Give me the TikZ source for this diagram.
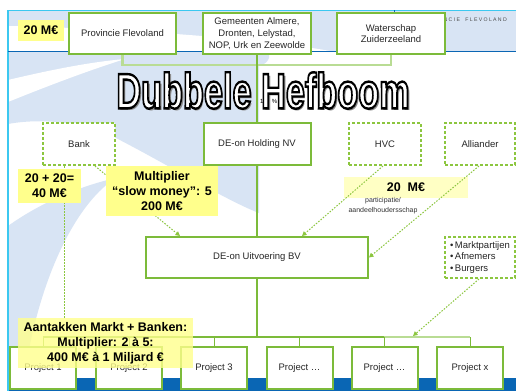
\documentclass[tikz,border=0pt]{standalone}
\usepackage{fontspec}
\setmainfont{Liberation Sans}
\usepackage{graphicx}
\usetikzlibrary{arrows.meta,calc}
\pgfdeclarelayer{front}
\pgfsetlayers{main,front}
\definecolor{lblue}{HTML}{D8E4F4}
\definecolor{dblue}{HTML}{0A66B4}
\definecolor{cyanl}{HTML}{3CC8F0}
\definecolor{gsolid}{HTML}{7CBB3A}
\definecolor{gdash}{HTML}{8CC63F}
\definecolor{gpale}{HTML}{B9DC94}
\definecolor{ylw}{HTML}{FFFF8C}
\definecolor{ylwpale}{HTML}{FFFFC4}
\newcommand{\mytitletext}{\fontsize{49.7}{50}\selectfont\bfseries\scalebox{0.69}[1]{Dubbele Hefboom}}
\newcommand{\myoutlined}[1]{\special{pdf:code q 2 Tr 0 0 0 RG 2.4 w}#1\special{pdf:code Q}}
\newcommand{\mytitleall}{\rlap{\hspace{2pt}\raisebox{-2pt}{\color{black!45}\mytitletext}}\myoutlined{\mytitletext}}
\begin{document}
\begin{tikzpicture}[x=1pt,y=-1pt,
  boxtxt/.style={font=\fontsize{9.5}{11.7}\selectfont, align=center, text=black!85},
  solidbox/.style={boxtxt, draw=gsolid, line width=2pt, fill=white, inner sep=0pt},
  dashbox/.style={boxtxt, draw=gdash, line width=2pt, fill=white, dash pattern=on 3pt off 2pt, inner sep=0pt},
  projbox/.style={solidbox, minimum width=66pt, minimum height=42pt},
  ybox/.style={fill=ylw, font=\fontsize{12.5}{15.2}\selectfont\bfseries, align=center, inner sep=0pt},
  dotline/.style={draw=gdash, line width=1pt, dash pattern=on 1.5pt off 1.5pt},
  dotcon/.style={dotline, -{Triangle[width=4.5pt,length=4.5pt]}},
  trunk/.style={draw=gsolid, line width=1.5pt},
  ttl/.style={anchor=base, inner sep=0pt},
]
% background
\fill[white] (0,0) rectangle (516,391);
\useasboundingbox (0,0) rectangle (516,391);
\fill[lblue] (8,10) rectangle (516,51);
\fill[white] (8,26) .. controls (110,28) and (260,38) .. (330,51) -- (8,51) -- cycle;
\fill[lblue] (8,51) -- (264,51) .. controls (272,52) and (271,63) .. (259,66) -- (259,213)
  .. controls (225,200) and (160,160) .. (110,135) .. controls (80,122) and (40,118) .. (8,124) -- cycle;
\fill[white] (8,80) .. controls (50,70) and (90,62) .. (125,59) .. controls (90,70) and (50,85) .. (8,102) -- cycle;
\fill[lblue] (8,226) .. controls (40,203) and (80,186) .. (116,178) .. controls (80,200) and (40,270) .. (24,378) -- (8,378) -- cycle;
\fill[dblue] (8,378) rectangle (516,391);
\draw[cyanl, line width=1pt] (8,10) -- (516,10);
\draw[cyanl, line width=1.2pt] (8,10) -- (8,391);
\draw[dblue, line width=1pt] (8,51) -- (516,51);
\draw[dblue, line width=0.8pt] (394,10) -- (394,13);
\node[anchor=east, inner sep=0pt, font=\fontsize{5.2}{6}\selectfont\addfontfeature{LetterSpace=25}, text=black!70] (pf) at (507,20) {PROVINCIE\ \ FLEVOLAND};

% boxes
\node[solidbox, minimum width=107pt, minimum height=41pt] (prov) at (122.5,33.5) {Provincie Flevoland};
\node[solidbox, minimum width=108pt, minimum height=41pt] (gem) at (257,33.5) {Gemeenten Almere,\\Dronten, Lelystad,\\NOP, Urk en Zeewolde};
\node[solidbox, minimum width=108pt, minimum height=41pt] (wat) at (391,33.5) {Waterschap\\Zuiderzeeland};
\node[ybox, minimum width=46pt, minimum height=21pt] (y20) at (41,30.5) {20 M€};

\node[dashbox, minimum width=72pt, minimum height=42pt] (bank) at (79,144) {Bank};
\node[solidbox, minimum width=107pt, minimum height=42pt] (hold) at (257,144) {DE-on Holding NV};
\node[dashbox, minimum width=72pt, minimum height=42pt] (hvc) at (385,144) {HVC};
\node[dashbox, minimum width=70pt, minimum height=42pt] (alli) at (480,144) {Alliander};

\node[solidbox, minimum width=222pt, minimum height=41pt] (uitv) at (257,257.5) {DE-on Uitvoering BV};
\node[dashbox, minimum width=70pt, minimum height=41pt, align=left] (markt) at (480,257.5) {\textbullet\hspace{1.5pt}Marktpartijen\\\textbullet\hspace{1.5pt}Afnemers\\\textbullet\hspace{1.5pt}Burgers};

\node[projbox] (p1) at (43,368) {Project 1};
\node[projbox] (p2) at (129,368) {Project 2};
\node[projbox] (p3) at (214,368) {Project 3};
\node[projbox] (p4) at (299.5,368) {Project \ldots};
\node[projbox] (p5) at (384.5,368) {Project \ldots};
\node[projbox] (p6) at (470,368) {Project x};

\node[ybox, fill=ylwpale, minimum width=124pt, minimum height=21pt] (y20b) at (406,187.5) {20\ \ M€};
\node[font=\fontsize{7}{9.5}\selectfont, align=center, inner sep=0pt, text=black!80] (part) at (383,205.5) {participatie/\\aandeelhoudersschap};

% front yellow boxes
\begin{pgfonlayer}{front}
\node[ybox, minimum width=63pt, minimum height=34pt] (y40) at (49.5,186) {20 + 20=\\40 M€};
\node[ybox, minimum width=112pt, minimum height=50pt] (ymult) at (162,191) {Multiplier\\“slow money”: 5\\200 M€};
\node[ybox, fill opacity=0.8, text opacity=1, minimum width=175pt, minimum height=50pt] (yaant) at (105.5,343) {Aantakken Markt + Banken:\\Multiplier: 2 à 5:\\400 M€ à 1 Miljard €};
\end{pgfonlayer}

% connectors
\draw[gpale, line width=2.5pt] (prov.south) -- ++(0,10) -| (wat.south);
\draw[trunk] (gem.south) -- (hold.north);
\draw[trunk] (hold.south) -- (uitv.north);
\coordinate (busL) at (43,337);
\coordinate (busM) at (384,337);
\coordinate (busR) at (470,337);
\coordinate (busA) at (413,336);
\draw[trunk] (uitv.south) -- (uitv.south |- busL);
\draw[gsolid, line width=2.5pt] (busL) -- (busM);
\draw[gpale, line width=2.5pt] (busM) -- (busR);
\foreach \n in {p1,p2,p3,p4,p5,p6}
  \draw[gsolid, line width=1pt] (\n.north) -- (\n.north |- busL);

\draw[dotline] ([xshift=-15pt]bank.south) -- ([xshift=-41.5pt]yaant.north);
\draw[dotcon] ([xshift=16pt]bank.south) -- ([xshift=-77pt]uitv.north);
\draw[dotcon] ([xshift=-2pt]hvc.south) -- ([xshift=45pt]uitv.north);
\draw[dotcon] ([xshift=-1pt]alli.south) -- (uitv.east);
\draw[dotcon] ([xshift=-1pt]markt.south) -- (busA);

% title
\node[anchor=base west, inner sep=0pt, font=\fontsize{6}{7}\selectfont] (pct) at (260,103) {100 \%};
\node[ttl, text=white] (title) at (263,108.3) {\mytitleall};
\end{tikzpicture}
\end{document}
